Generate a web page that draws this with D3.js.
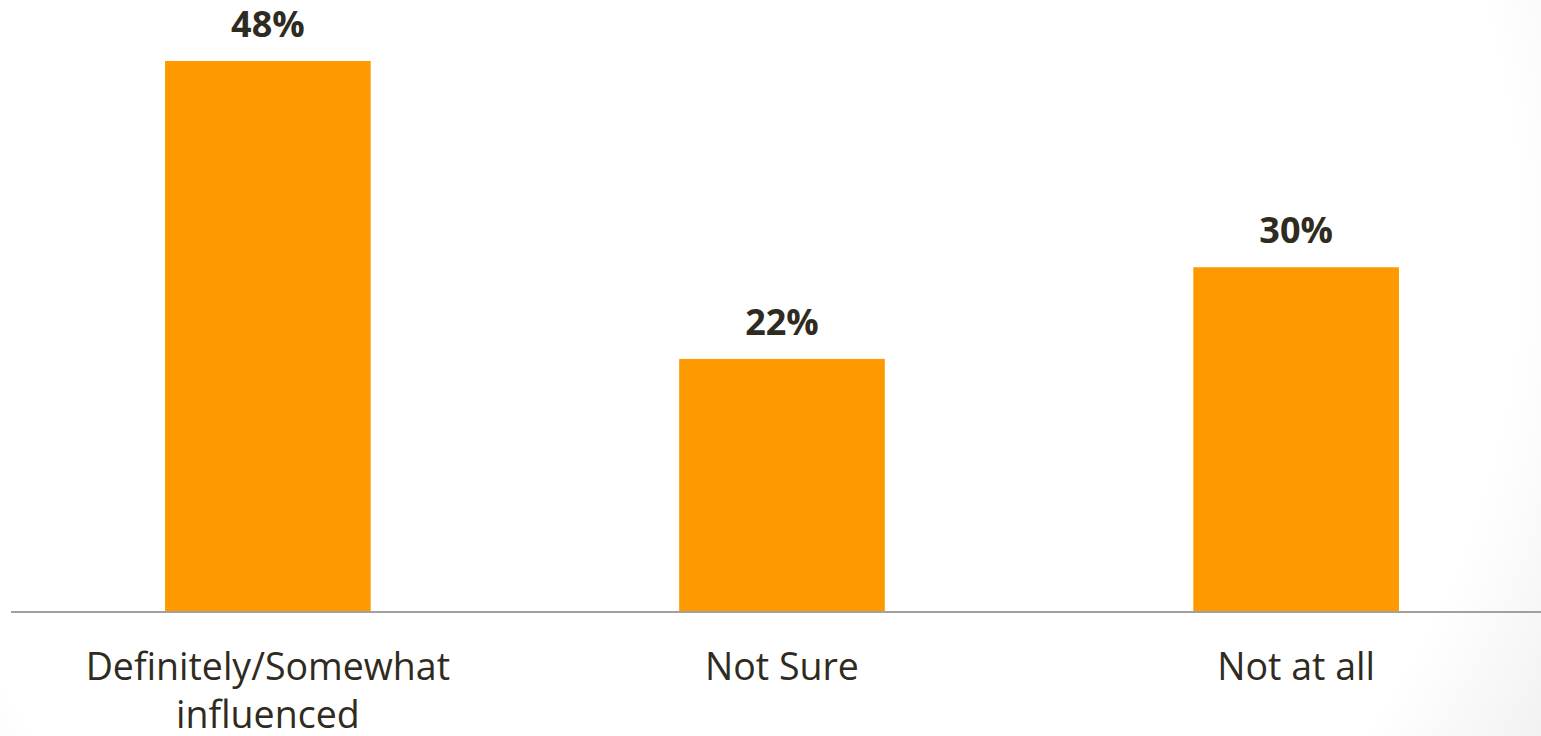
<!DOCTYPE html>
<html><head><meta charset="utf-8">
<script src="https://cdn.jsdelivr.net/npm/d3@7"></script>
<style>html,body{margin:0;padding:0;background:#fff;overflow:hidden}</style>
</head><body>
<svg id="chart" width="1541" height="736"></svg>
<script>
const categories = [["Definitely/Somewhat", "influenced"], ["Not Sure"], ["Not at all"]];
const values = [48, 22, 30];
const valueLabels = ["48%", "22%", "30%"];

const svg = d3.select("#chart");
const W = 1541, H = 736;
const defs = svg.append("defs");
const rg = defs.append("radialGradient").attr("id","bg")
  .attr("gradientUnits","userSpaceOnUse").attr("cx",700).attr("cy",250).attr("r",1000);
rg.append("stop").attr("offset","0.82").attr("stop-color","#ffffff");
rg.append("stop").attr("offset","1").attr("stop-color","#efefef");
svg.append("rect").attr("width",W).attr("height",H).attr("fill","url(#bg)");

const baseY = 611;
const keys = categories.map((d,i)=>i);
const x = d3.scaleBand().domain(keys).range([10.8, 1553.2]).paddingInner(0.6).paddingOuter(0.3);
const y = d3.scaleLinear().domain([0, 48]).range([baseY, 61]);

svg.selectAll("rect.bar").data(values).join("rect").attr("class","bar")
  .attr("x",(d,i)=>x(i)).attr("width",x.bandwidth())
  .attr("y",d=>y(d)).attr("height",d=>baseY-y(d))
  .attr("fill","#ff9900");

svg.selectAll("text.val").data(values).join("text").attr("class","val")
  .attr("x",(d,i)=>x(i)+x.bandwidth()/2).attr("y",d=>y(d)-24)
  .attr("text-anchor","middle").attr("font-family","'Open Sans', sans-serif")
  .attr("font-weight","bold").attr("font-size",36).attr("fill","#2f2b21")
  .text((d,i)=>valueLabels[i]);

svg.append("line").attr("x1",11).attr("x2",W).attr("y1",612).attr("y2",612)
  .attr("stroke","#a0a0a0").attr("stroke-width",2);

const lab = svg.selectAll("text.cat").data(categories).join("text").attr("class","cat")
  .attr("x",(d,i)=>x(i)+x.bandwidth()/2).attr("y",680)
  .attr("text-anchor","middle").attr("font-family","'Open Sans', sans-serif")
  .attr("font-size",37.5).attr("fill","#2f2b21");
lab.selectAll("tspan").data(d=>d).join("tspan")
  .attr("x",function(){return this.parentNode.getAttribute("x");})
  .attr("dy",(d,j)=>j===0?0:48).text(d=>d);
</script>
</body></html>
